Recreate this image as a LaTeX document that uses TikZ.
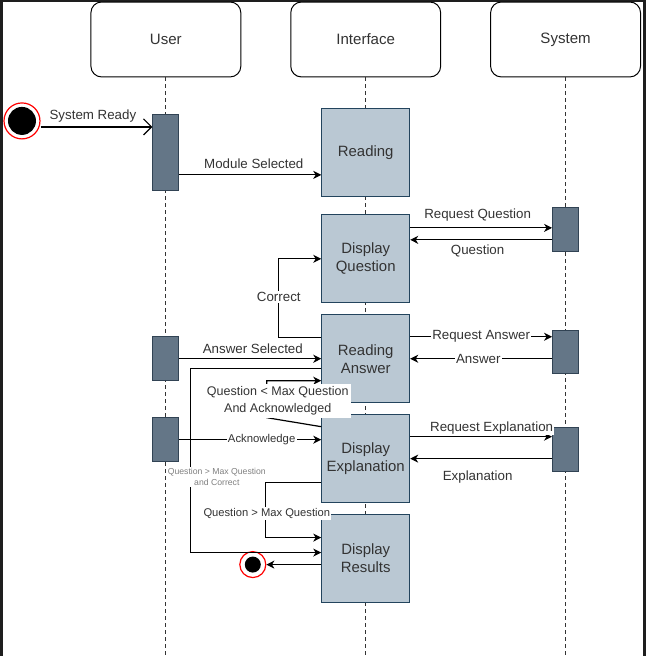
\documentclass[tikz,border=0pt]{standalone}
\usepackage{fontspec}
\setmainfont{Liberation Sans}
\usetikzlibrary{arrows.meta}
\definecolor{barfill}{HTML}{647687}
\definecolor{barline}{HTML}{314354}
\definecolor{boxfill}{HTML}{BAC8D3}
\definecolor{boxline}{HTML}{23445D}
\definecolor{txt}{HTML}{333333}
\definecolor{framecol}{HTML}{1E1E1E}
\begin{document}
\begin{tikzpicture}[x=0.75pt,y=-0.75pt,
    header/.style={draw=black,fill=white,rounded corners=8pt,minimum width=112.5pt,minimum height=56.25pt,
      font=\fontsize{11.3}{13}\selectfont,text=txt,line width=0.75pt},
    lifeline/.style={draw=txt,line width=0.75pt,dash pattern=on 3pt off 2.25pt},
    bar/.style={draw=barline,fill=barfill,minimum width=19.5pt,inner sep=0pt,line width=0.75pt},
    statebox/.style={draw=boxline,fill=boxfill,minimum width=66pt,minimum height=66pt,align=center,
      font=\fontsize{11.2}{13.5}\selectfont,text=txt,line width=0.75pt},
    msg/.style={draw=black,line width=0.9pt,-{Stealth[length=6pt,width=6pt,inset=1.8pt]}},
    openmsg/.style={draw=black,line width=0.9pt,-{Straight Barb[length=6pt,width=12pt]}},
    lbl/.style={font=\fontsize{10}{12}\selectfont,text=txt,inner sep=1pt},
    onlbl/.style={lbl,fill=white},
    startring/.style={circle,draw=red,fill=white,line width=0.9pt,minimum size=27pt,inner sep=0pt},
    startdot/.style={circle,fill=black,minimum size=21pt,inner sep=0pt},
    stopring/.style={circle,draw=red,fill=white,line width=0.9pt,minimum size=19.5pt,inner sep=0pt},
    stopdot/.style={circle,fill=black,minimum size=12pt,inner sep=0pt}
  ]
  \fill[framecol] (0,0) rectangle (646,656);
  \fill[white] (3,2) rectangle (643,656);

  \node[header] (huser) at (166,39.5) {User};
  \node[header] (hface) at (366,39.5) {Interface};
  \node[header] (hsys) at (566,39.5) {System};
  \draw[lifeline] (huser.south) -- (huser.south |- 0,656);
  \draw[lifeline] (hface.south) -- (hface.south |- 0,656);
  \draw[lifeline] (hsys.south) -- (hsys.south |- 0,656);

  \node[startring] (start) at (22,121) {};
  \node[startdot] (startdot) at (start) {};
  \node[stopring] (stop) at (253,565) {};
  \node[stopdot] (stopdot) at (stop) {};

  \node[bar,minimum height=57pt] (ubar1) at (166,152.5) {};
  \node[bar,minimum height=33pt] (ubar2) at (166,359) {};
  \node[bar,minimum height=33pt] (ubar3) at (166,440) {};
  \node[bar,minimum height=33pt] (sbar1) at (566,230) {};
  \node[bar,minimum height=32.25pt] (sbar2) at (566,352.5) {};
  \node[bar,minimum height=33pt] (sbar3) at (566,450) {};

  \node[statebox] (read) at (366,152.5) {Reading};
  \node[statebox] (dq) at (366,259) {Display\\Question};
  \node[statebox] (ra) at (366,359) {Reading\\Answer};
  \node[statebox] (de) at (366,458.5) {Display\\Explanation};
  \node[statebox] (dr) at (366,559) {Display\\Results};

  \draw[openmsg] (start.east |- 0,127) -- (ubar1.west |- 0,127);
  \node[lbl] (lready) at (93,116) {System Ready};
  \draw[msg] (ubar1.east |- 0,175) -- (read.west |- 0,175);
  \node[lbl] (lmodule) at (254,164) {Module Selected};
  \draw[msg] (dq.east |- 0,228) -- (sbar1.west |- 0,228);
  \node[lbl] (lreqq) at (478,215) {Request Question};
  \draw[msg] (sbar1.west |- 0,240) -- (dq.east |- 0,240);
  \node[lbl] (lquest) at (478,251) {Question};
  \draw[msg] (ra.west |- 0,338) -| (279,259) -- (dq.west |- 0,259);
  \node[onlbl] (lcorrect) at (279,297) {Correct};
  \draw[msg] (ra.east |- 0,337) -- (sbar2.west |- 0,337) node[onlbl,midway] (lreqa) {Request Answer};
  \draw[msg] (sbar2.west |- 0,359) -- (ra.east |- 0,359) node[onlbl,pos=0.52] (lans) {Answer};
  \draw[msg] (ubar2.east |- 0,359) -- (ra.west |- 0,359);
  \node[lbl] (lanssel) at (253,349) {Answer Selected};
  \draw[msg] (ra.west |- 0,369) -| (191,553) -- (dr.west |- 0,553);
  \node[onlbl,font=\fontsize{6.5}{8.25}\selectfont,text=gray,align=center] (lgtcor) at (217,477) {Question > Max Question\\and Correct};
  \draw[msg] (de.west |- 0,427) -- (267,418) -- (267,381) -- (ra.west |- 0,381);
  \node[onlbl,font=\fontsize{9.4}{12.75}\selectfont,align=center,inner sep=2pt] (lltack) at (278,401) {Question < Max Question\\And Acknowledged};
  \draw[msg] (ubar3.east |- 0,440) -- (de.west |- 0,440) node[onlbl,pos=0.58,font=\fontsize{8.5}{10}\selectfont] (lack) {Acknowledge};
  \draw[msg] (de.east |- 0,437) -- (sbar3.west |- 0,437);
  \node[onlbl] (lreqe) at (492,428) {Request Explanation};
  \draw[msg] (sbar3.west |- 0,459) -- (de.east |- 0,459);
  \node[lbl] (lexpl) at (478,477) {Explanation};
  \draw[msg] (de.west |- 0,483) -| (266,538) -- (dr.west |- 0,538);
  \node[onlbl,font=\fontsize{8.4}{10}\selectfont] (lgt) at (267,514) {Question > Max Question};
  \draw[msg] (dr.west |- 0,565) -- (stop.east);
\end{tikzpicture}
\end{document}
